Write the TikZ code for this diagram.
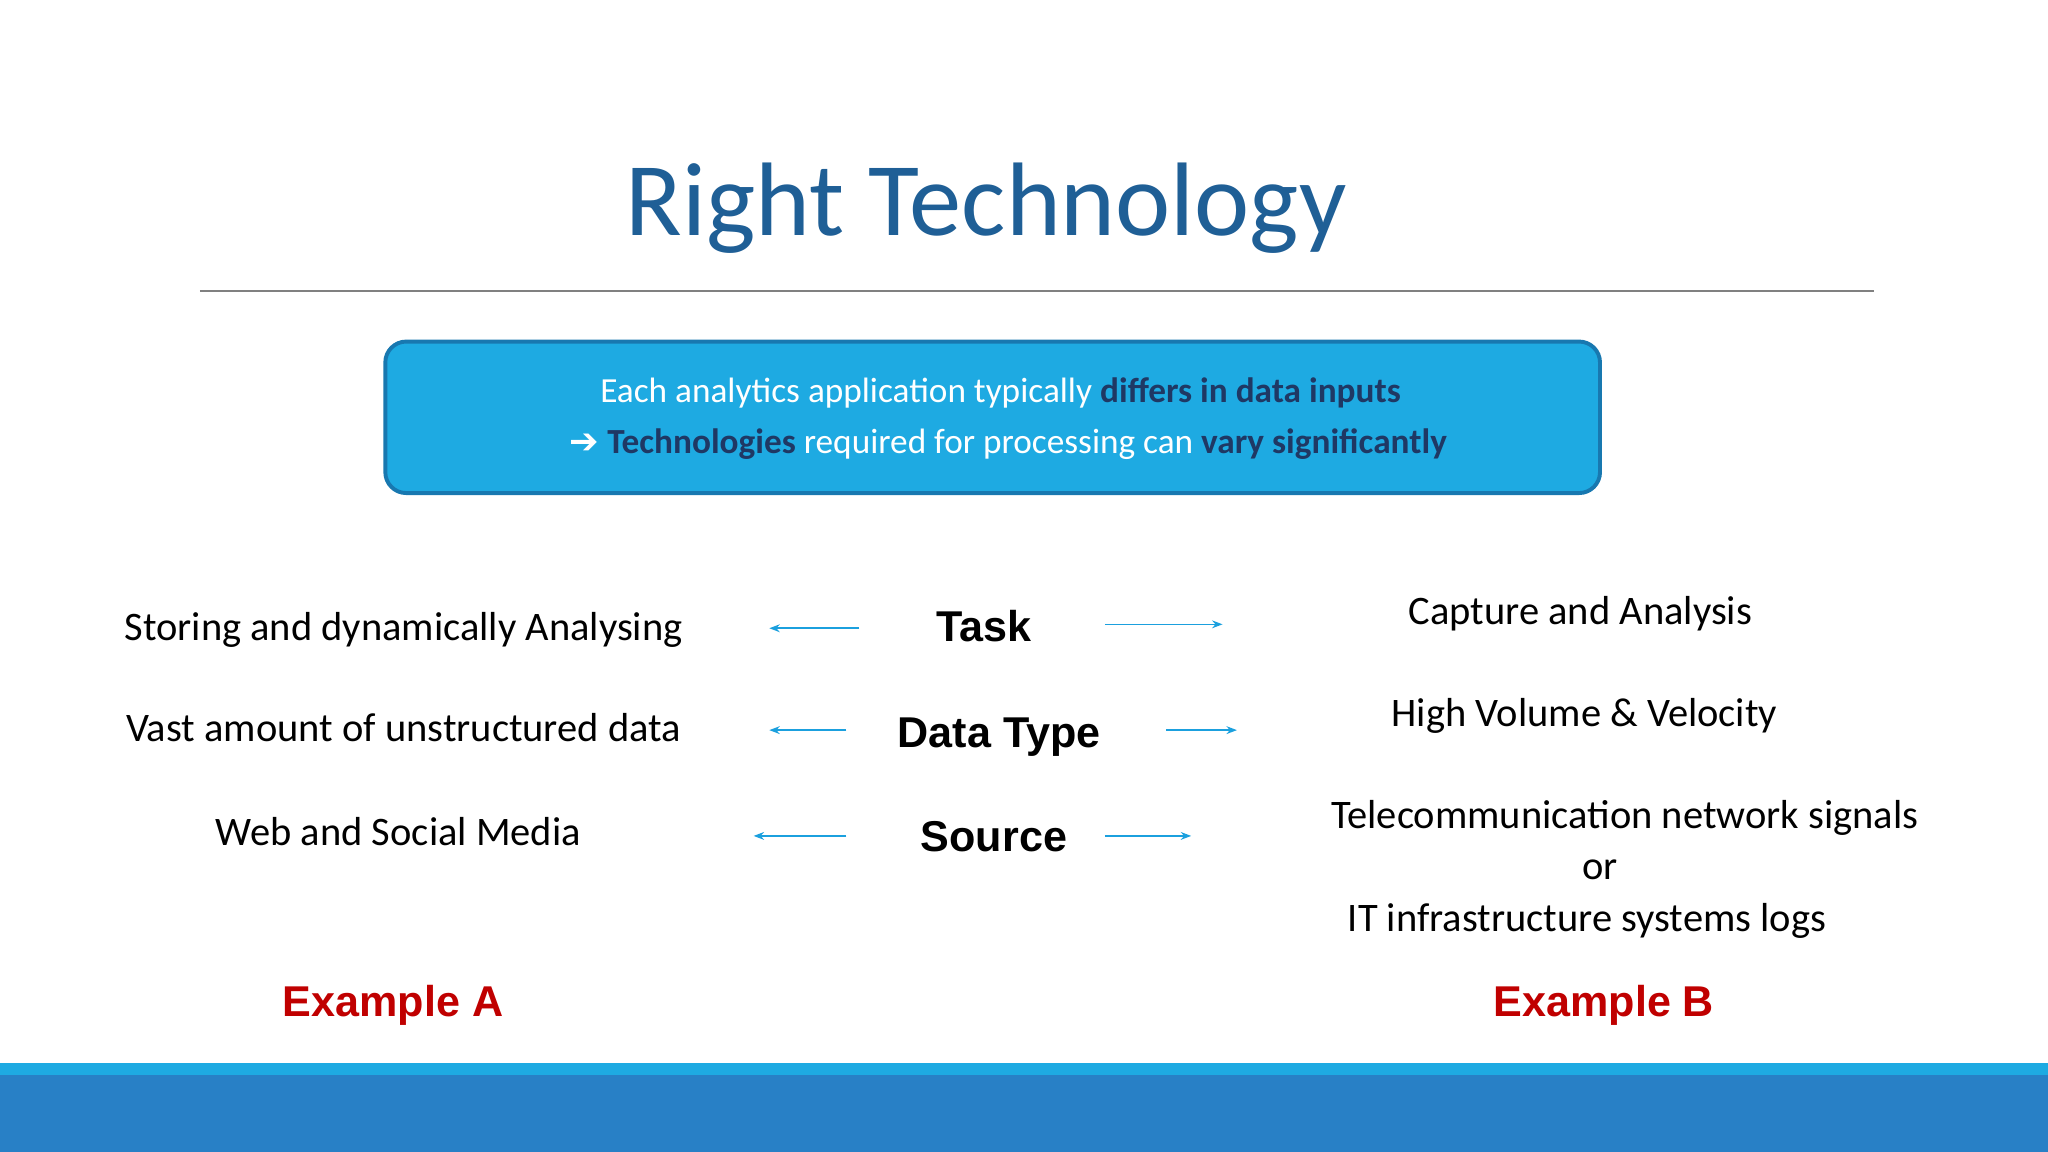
\documentclass[tikz,border=0pt]{standalone}
\usepackage{fontspec}
\setmainfont{Carlito}
\newfontfamily\arial{Liberation Sans}
\newfontfamily\dejavu{DejaVu Sans}
\usetikzlibrary{arrows.meta}
\definecolor{boxblue}{RGB}{30,170,226}
\definecolor{boxedge}{RGB}{24,120,176}
\definecolor{darkb}{RGB}{31,56,100}
\definecolor{titleblue}{RGB}{31,95,150}
\definecolor{arrblue}{RGB}{27,160,222}
\definecolor{exred}{RGB}{192,0,0}
\definecolor{barlight}{RGB}{30,170,226}
\definecolor{bardark}{RGB}{40,128,198}
\begin{document}
\begin{tikzpicture}[x=0.5pt,y=-0.5pt,
  txt/.style={anchor=base,inner sep=0pt,font=\fontsize{15.5}{18}\selectfont},
  keyw/.style={anchor=base,inner sep=0pt,font=\arial\bfseries\fontsize{16.5}{20}\selectfont},
  exmp/.style={anchor=base,inner sep=0pt,text=exred,font=\arial\bfseries\fontsize{16.5}{20}\selectfont},
  conn/.style={draw=arrblue,line width=0.6pt,-{Stealth[length=4pt,width=3pt]}}]
\useasboundingbox (0,0) rectangle (1568,882);
\fill[white] (0,0) rectangle (1568,882);
\node[anchor=base,inner sep=0pt,text=titleblue,font=\fontsize{40}{48}\selectfont] (title) at (755,180) {Right Technology};
\coordinate (l1) at (153,223); \coordinate (l2) at (1435,223);
\draw[gray,line width=0.6pt] (l1) -- (l2);
\node[draw=boxedge,line width=1.5pt,fill=boxblue,rounded corners=8pt,minimum width=465pt,minimum height=58pt,inner sep=0pt] (box) at (760,319.5) {};
\node[anchor=base,inner sep=0pt,text=white,font=\fontsize{13.5}{16}\selectfont] (b1) at (766,308) {Each analytics application typically \textcolor{darkb}{\bfseries differs in data inputs}};
\node[anchor=base,inner sep=0pt,text=white,font=\fontsize{13.5}{16}\selectfont] (b2) at (772,347) {{\dejavu\bfseries ➔} \textcolor{darkb}{\bfseries Technologies} required for processing can \textcolor{darkb}{\bfseries vary significantly}};
\node[txt] (a1) at (309,490) {Storing and dynamically Analysing};
\node[txt] (a2) at (309,568) {Vast amount of unstructured data};
\node[txt] (a3) at (305,647) {Web and Social Media};
\node[keyw] (k1) at (753,491) {Task};
\node[keyw] (k2) at (765,572) {Data Type};
\node[keyw] (k3) at (761,652) {Source};
\node[txt] (r1) at (1210,478) {Capture and Analysis};
\node[txt] (r2) at (1213,556) {High Volume \& Velocity};
\node[txt] (r3) at (1244,634) {Telecommunication network signals};
\node[txt] (r4) at (1225,673) {or};
\node[txt] (r5) at (1215,713) {IT infrastructure systems logs};
\coordinate (p1) at (658,481); \coordinate (q1) at (589,481);
\coordinate (p2) at (648,559); \coordinate (q2) at (589,559);
\coordinate (p3) at (648,640); \coordinate (q3) at (577,640);
\coordinate (s1) at (846,478); \coordinate (t1) at (936,478);
\coordinate (s2) at (893,559); \coordinate (t2) at (947,559);
\coordinate (s3) at (846,640); \coordinate (t3) at (912,640);
\draw[conn] (p1) -- (q1); \draw[conn] (p2) -- (q2); \draw[conn] (p3) -- (q3);
\draw[conn] (s1) -- (t1); \draw[conn] (s2) -- (t2); \draw[conn] (s3) -- (t3);
\node[exmp] (ea) at (301,778) {Example A};
\node[exmp] (eb) at (1228,778) {Example B};
\fill[barlight] (0,814) rectangle (1568,823);
\fill[bardark] (0,823) rectangle (1568,882);
\end{tikzpicture}
\end{document}
